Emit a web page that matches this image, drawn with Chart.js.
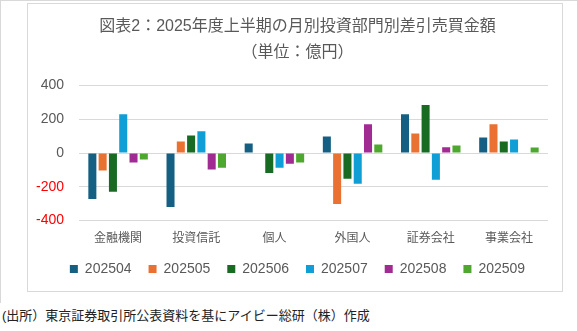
<!DOCTYPE html>
<html lang="ja">
<head>
<meta charset="utf-8">
<script src="https://cdn.jsdelivr.net/npm/chart.js@4"></script>
<style>
  html, body { margin: 0; padding: 0; background: #fff; }
  body { width: 577px; height: 331px; position: relative; overflow: hidden;
         font-family: 'Liberation Sans', 'Noto Sans CJK JP', sans-serif; }
  .frame { position: absolute; left: 0; top: 0; width: 577px; height: 303px;
           border-top: 1px solid #d9d9d9; border-left: 1px solid #d9d9d9; box-sizing: border-box; }
  .chart-box { position: absolute; left: 27px; top: 3px; width: 536px; height: 289px;
               border: 1px solid #d9d9d9; box-sizing: border-box; }
  .chart-box canvas { display: block; }
  .source { position: absolute; left: 2px; top: 305px; font-size: 13px; color: #222;
            white-space: nowrap; }
</style>
</head>
<body>
<div class="frame"></div>
<div class="chart-box">
  <canvas id="flowChart" width="534" height="287"></canvas>
</div>
<div class="source">(出所）東京証券取引所公表資料を基にアイビー総研（株）作成</div>

<script>
// 投資部門（カテゴリ）
const sectors = ['金融機関', '投資信託', '個人', '外国人', '証券会社', '事業会社'];
// 月（系列）
const months = ['202504', '202505', '202506', '202507', '202508', '202509'];

// 月別の差引売買金額（億円）、sectors の順
const v202504 = [-272, -320, 56, 98, 230, 92];
const v202505 = [-104, 68, 0, -302, 116, 170];
const v202506 = [-230, 104, -118, -152, 284, 68];
const v202507 = [230, 128, -88, -182, -158, 80];
const v202508 = [-56, -98, -64, 170, 34, 0];
const v202509 = [-38, -88, -56, 50, 44, 32];

const yTicks = [-400, -200, 0, 200, 400];

const seriesValues = [v202504, v202505, v202506, v202507, v202508, v202509];
const seriesColors = ['#156082', '#E97132', '#196B24', '#0F9ED5', '#A02B93', '#4EA72E'];

const textGray = '#595959';
const fontFamily = "'Liberation Sans', 'Noto Sans CJK JP', sans-serif";

const ctx = document.getElementById('flowChart').getContext('2d');
new Chart(ctx, {
    type: 'bar',
    data: {
        labels: sectors,
        datasets: months.map((m, i) => ({
            label: m,
            data: seriesValues[i],
            backgroundColor: seriesColors[i],
            borderWidth: 0,
            categoryPercentage: 0.79,
            barPercentage: 0.78
        }))
    },
    options: {
        responsive: false,
        animation: false,
        layout: { padding: { left: 7, right: 2, top: 0, bottom: 5 } },
        plugins: {
            title: {
                display: true,
                text: '図表2：2025年度上半期の月別投資部門別差引売買金額',
                color: textGray,
                font: { family: fontFamily, size: 16, weight: 'normal' },
                padding: { top: 13, bottom: 7 }
            },
            subtitle: {
                display: true,
                text: '（単位：億円）',
                color: textGray,
                font: { family: fontFamily, size: 16, weight: 'normal' },
                padding: { top: 0, bottom: 23 }
            },
            legend: {
                position: 'bottom',
                labels: {
                    boxWidth: 8,
                    boxHeight: 8,
                    padding: 17,
                    color: textGray,
                    font: { family: fontFamily, size: 14 }
                }
            },
            tooltip: { enabled: false }
        },
        scales: {
            x: {
                grid: { display: false, drawTicks: false },
                border: { display: false },
                ticks: {
                    color: textGray,
                    padding: 11,
                    font: { family: fontFamily, size: 12 }
                },
                // カテゴリ名と凡例の間を詰める
                afterFit: axis => { axis.height -= 12; }
            },
            y: {
                min: yTicks[0],
                max: yTicks[yTicks.length - 1],
                afterBuildTicks: axis => { axis.ticks = yTicks.map(v => ({ value: v })); },
                afterFit: axis => { axis.width = 44; },
                grid: { color: '#d9d9d9', lineWidth: 1, drawTicks: false },
                border: { display: false },
                ticks: {
                    padding: 15,
                    font: { family: fontFamily, size: 14 },
                    color: c => (c.tick && c.tick.value < 0 ? '#FF0000' : textGray)
                }
            },
            // 右側の余白用（何も描かない）
            yRight: {
                position: 'right',
                display: true,
                grid: { display: false, drawTicks: false },
                border: { display: false },
                ticks: { display: false },
                afterFit: axis => { axis.width = 12; }
            }
        }
    }
});
</script>
</body>
</html>
